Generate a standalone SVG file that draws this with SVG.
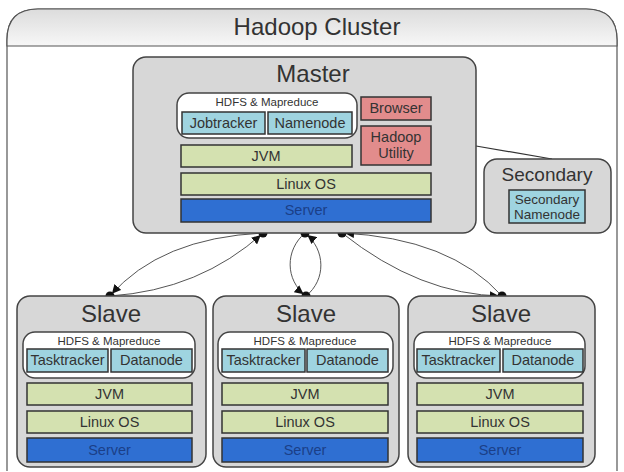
<svg xmlns="http://www.w3.org/2000/svg" width="624" height="472" viewBox="0 0 624 472">
<defs>
<linearGradient id="hdr" x1="0" y1="0" x2="0" y2="1">
<stop offset="0" stop-color="#dcdcdc"/>
<stop offset="1" stop-color="#f7f7f7"/>
</linearGradient>
<marker id="arr" markerWidth="9" markerHeight="9" refX="12" refY="4.5" orient="auto" markerUnits="userSpaceOnUse">
<path d="M0,0 L9,4.5 L0,9 z" fill="#111"/>
</marker>
</defs>
<style>
text{font-family:"Liberation Sans",Arial,sans-serif;text-anchor:middle;fill:#333}
.node{fill:#d7d7d7;stroke:#444;stroke-width:1.5}
.grp{fill:#fff;stroke:#444;stroke-width:1.5}
.cy{fill:#9fd4e0;stroke:#333;stroke-width:1.5}
.gr{fill:#d4e1b0;stroke:#333;stroke-width:1.5}
.rd{fill:#e28c8c;stroke:#333;stroke-width:1.5}
.bl{fill:#2f6fd2;stroke:#333;stroke-width:1.5}
.t{font-size:14.5px}
.s{font-size:11.5px}
.h{font-size:24px}
.sn{font-size:13.5px}
.bt{font-size:14.5px;fill:#1b3f88}
.con{fill:none;stroke:#555;stroke-width:1}
.dot{fill:#111}
</style>
<g id="cluster">
<path d="M7,471 L7,40 Q7,9 38,9 L586,9 Q617,9 617,40 L617,471" fill="#fff" stroke="#555" stroke-width="1.2"/>
<path d="M7,46 L7,40 Q7,9 38,9 L586,9 Q617,9 617,40 L617,46 Z" fill="url(#hdr)" stroke="#555" stroke-width="1.2"/>
<text x="317" y="35" style="font-size:24px">Hadoop Cluster</text>
</g>
<g id="connectors">
<line x1="476" y1="146" x2="552" y2="159" stroke="#333" stroke-width="1.2"/>
<path class="con" d="M263,233 Q160,238 110,296" marker-end="url(#arr)"/>
<path class="con" d="M110,296 Q200,290 263,233" marker-end="url(#arr)"/>
<path class="con" d="M305,233 C285,250 285,280 306,296" marker-end="url(#arr)"/>
<path class="con" d="M306,296 C326,280 326,250 305,233" marker-end="url(#arr)"/>
<path class="con" d="M502,296 Q450,238 342,233" marker-end="url(#arr)"/>
<path class="con" d="M342,233 Q420,295 502,296" marker-end="url(#arr)"/>
<circle class="dot" cx="263" cy="233" r="4.5"/>
<circle class="dot" cx="305" cy="233" r="4.5"/>
<circle class="dot" cx="342" cy="233" r="4.5"/>
<circle class="dot" cx="110" cy="296" r="4.5"/>
<circle class="dot" cx="306" cy="296" r="4.5"/>
<circle class="dot" cx="502" cy="296" r="4.5"/>
</g>
<g id="master">
<rect class="node" x="133" y="57" width="343" height="176" rx="13"/>
<text class="h" x="313" y="82">Master</text>
<rect class="grp" x="177" y="93" width="180" height="45" rx="12"/>
<text class="s" x="267" y="106">HDFS &amp; Mapreduce</text>
<rect class="cy" x="182" y="112" width="83" height="22"/>
<text class="t" x="223.5" y="128">Jobtracker</text>
<rect class="cy" x="268" y="112" width="84" height="22"/>
<text class="t" x="310" y="128">Namenode</text>
<rect class="rd" x="361" y="97" width="70" height="23"/>
<text class="t" x="396" y="113">Browser</text>
<rect class="rd" x="361" y="126" width="70" height="39"/>
<text class="t" x="396" y="142">Hadoop</text>
<text class="t" x="396" y="158">Utility</text>
<rect class="gr" x="181" y="145" width="171" height="22"/>
<text class="t" x="266" y="161">JVM</text>
<rect class="gr" x="181" y="173" width="250" height="22"/>
<text class="t" x="306" y="189">Linux OS</text>
<rect class="bl" x="181" y="199" width="250" height="23"/>
<text class="bt" x="306" y="215">Server</text>
</g>
<g id="secondary">
<rect class="node" x="484" y="159" width="127" height="74" rx="13"/>
<text x="547" y="181" style="font-size:19px">Secondary</text>
<rect class="cy" x="509" y="190" width="76" height="33"/>
<text class="sn" x="547" y="204">Secondary</text>
<text class="sn" x="547" y="219">Namenode</text>
</g>
<g id="slave1">
<rect class="node" x="17" y="296" width="189" height="171" rx="13"/>
<text class="h" x="111" y="322">Slave</text>
<rect class="grp" x="23" y="332" width="172" height="46" rx="12"/>
<text class="s" x="109" y="345">HDFS &amp; Mapreduce</text>
<rect class="cy" x="27" y="349" width="81" height="23"/>
<text class="t" x="67.5" y="365">Tasktracker</text>
<rect class="cy" x="111" y="349" width="81" height="23"/>
<text class="t" x="151.5" y="365">Datanode</text>
<rect class="gr" x="27" y="383" width="165" height="22"/>
<text class="t" x="109.5" y="399">JVM</text>
<rect class="gr" x="27" y="411" width="165" height="22"/>
<text class="t" x="109.5" y="427">Linux OS</text>
<rect class="bl" x="27" y="438" width="165" height="24"/>
<text class="bt" x="109.5" y="455">Server</text>
</g>
<g id="slave2">
<rect class="node" x="213" y="296" width="186" height="171" rx="13"/>
<text class="h" x="306" y="322">Slave</text>
<rect class="grp" x="218" y="332" width="175" height="46" rx="12"/>
<text class="s" x="305" y="345">HDFS &amp; Mapreduce</text>
<rect class="cy" x="222" y="349" width="83" height="23"/>
<text class="t" x="263.5" y="365">Tasktracker</text>
<rect class="cy" x="307" y="349" width="81" height="23"/>
<text class="t" x="347.5" y="365">Datanode</text>
<rect class="gr" x="222" y="383" width="166" height="22"/>
<text class="t" x="305" y="399">JVM</text>
<rect class="gr" x="222" y="411" width="166" height="22"/>
<text class="t" x="305" y="427">Linux OS</text>
<rect class="bl" x="222" y="438" width="166" height="24"/>
<text class="bt" x="305" y="455">Server</text>
</g>
<g id="slave3">
<rect class="node" x="408" y="296" width="187" height="171" rx="13"/>
<text class="h" x="501" y="322">Slave</text>
<rect class="grp" x="414" y="332" width="171" height="46" rx="12"/>
<text class="s" x="500" y="345">HDFS &amp; Mapreduce</text>
<rect class="cy" x="417" y="349" width="83" height="23"/>
<text class="t" x="458.5" y="365">Tasktracker</text>
<rect class="cy" x="503" y="349" width="80" height="23"/>
<text class="t" x="543" y="365">Datanode</text>
<rect class="gr" x="417" y="383" width="166" height="22"/>
<text class="t" x="500" y="399">JVM</text>
<rect class="gr" x="417" y="411" width="166" height="22"/>
<text class="t" x="500" y="427">Linux OS</text>
<rect class="bl" x="417" y="438" width="166" height="24"/>
<text class="bt" x="500" y="455">Server</text>
</g>
</svg>
